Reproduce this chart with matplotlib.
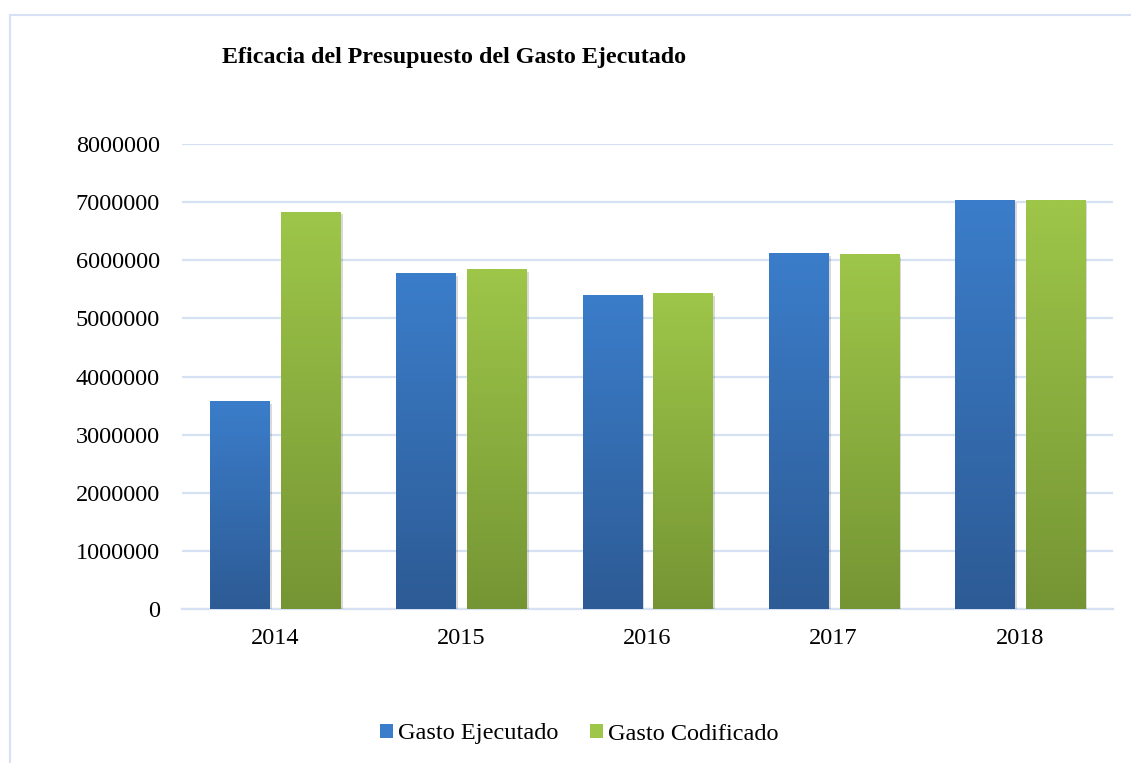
import matplotlib.pyplot as plt
import matplotlib.patheffects as pe
import numpy as np
from matplotlib.colors import LinearSegmentedColormap
from matplotlib.patches import Rectangle

years = ["2014", "2015", "2016", "2017", "2018"]
gasto_ejecutado = [3580000, 5780000, 5400000, 6125000, 7040000]
gasto_codificado = [6840000, 5850000, 5440000, 6110000, 7040000]

plt.rcParams["font.family"] = ["Liberation Serif", "DejaVu Serif"]

fig = plt.figure(figsize=(11.31, 7.63), dpi=100)
ax = fig.add_axes([0.161, 0.202, 0.823, 0.609])

# light frame around the chart area
fig.patches.append(Rectangle((10 / 1131, -0.1), 1.2, 1 - 15 / 763 + 0.1,
                             transform=fig.transFigure, fill=False,
                             edgecolor="#d6e2f3", linewidth=1.5))

x = np.arange(len(years))
width = 0.317
offset = 0.19

series = [
    (gasto_ejecutado, -offset, "Gasto Ejecutado", "#3b7dca", "#2d5b95"),
    (gasto_codificado, offset, "Gasto Codificado", "#9ec649", "#759534"),
]

shadow = [pe.SimplePatchShadow(offset=(2, -2), shadow_rgbFace="#000000", alpha=0.15),
          pe.Normal()]

for values, dx, label, top, bottom in series:
    bars = ax.bar(x + dx, values, width, color=top, label=label, zorder=3,
                  path_effects=shadow)
    cmap = LinearSegmentedColormap.from_list(label, [bottom, top])
    for bar in bars:
        x0, y0 = bar.get_x(), bar.get_y()
        h = bar.get_height()
        img = ax.imshow(np.linspace(0, 1, 256).reshape(-1, 1), cmap=cmap,
                        aspect="auto", origin="lower",
                        extent=(x0, x0 + bar.get_width(), y0, y0 + h),
                        zorder=4)
        img.set_clip_path(bar)

ax.set_xlim(-0.5, len(years) - 0.5)
ax.set_ylim(0, 8000000)
ax.set_yticks(np.arange(0, 8000001, 1000000))
ax.set_yticklabels([f"{v:d}" for v in range(0, 8000001, 1000000)])
ax.set_xticks(x)
ax.set_xticklabels(years)
ax.tick_params(axis="both", length=0, labelsize=17.5, colors="#000000")
ax.tick_params(axis="y", pad=16)
ax.tick_params(axis="x", pad=14)
ax.grid(axis="y", color="#d6e2f3", linewidth=1.6, zorder=0)
for side in ["top", "right", "left"]:
    ax.spines[side].set_visible(False)
ax.spines["bottom"].set_color("#d6e2f3")
ax.spines["bottom"].set_linewidth(1.6)

fig.text(222 / 1131, 1 - 58 / 763, "Eficacia del Presupuesto del Gasto Ejecutado",
         fontsize=17.3, fontweight="bold", va="center", ha="left")

leg = ax.legend(loc="center", bbox_to_anchor=(579 / 1131, 1 - 734 / 763),
                bbox_transform=fig.transFigure, ncol=2, frameon=False,
                fontsize=17.5, handlelength=0.55, handleheight=0.55,
                handletextpad=0.2, columnspacing=1.3)
for handle in leg.legend_handles:
    handle.set_path_effects([])

fig.savefig("out.png", dpi=100)
